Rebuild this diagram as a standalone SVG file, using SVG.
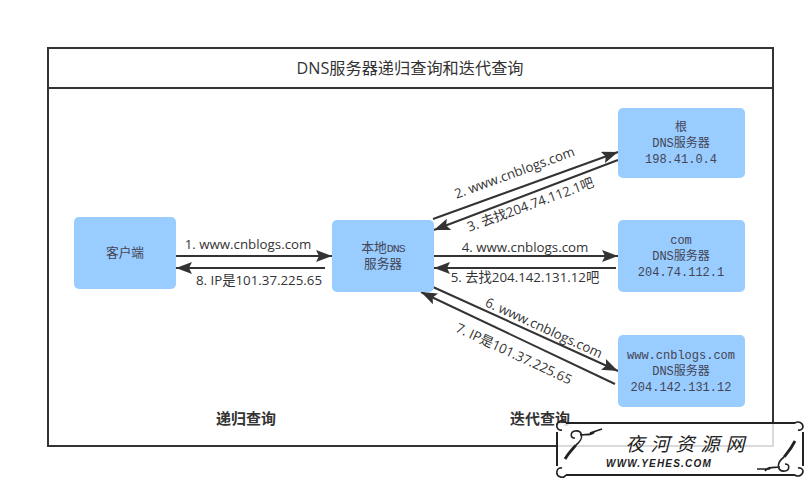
<svg xmlns="http://www.w3.org/2000/svg" width="805" height="478" viewBox="0 0 805 478">
<style>
text{font-family:"Liberation Sans","Noto Sans CJK SC",sans-serif;fill:#333;text-anchor:middle}
.lbl{font-family:"Open Sans","Noto Sans CJK SC",sans-serif;font-size:13.3px}
.n{font-family:"Liberation Mono","Noto Sans CJK SC",monospace;font-size:12.7px;fill:#445}
.n tspan{font-size:11.5px;letter-spacing:-.9px}
.m{font-family:"Liberation Mono","DejaVu Sans Mono","Noto Sans CJK SC",monospace;font-size:12px;fill:#445}
.h{font-family:"Open Sans","Noto Sans CJK SC",sans-serif;font-size:15px;font-weight:700}
.node{fill:#99ccff}
.c{stroke:#333;stroke-width:2;fill:none;marker-end:url(#a)}
.fl{fill:none;stroke:#222;stroke-width:1.6}
.fb{fill:none;stroke:#222;stroke-width:2.8}
</style>
<defs><marker id="a" markerUnits="userSpaceOnUse" markerWidth="16" markerHeight="12" refX="16" refY="6" orient="auto"><path d="M0 0L16 6L0 12L3 6Z" fill="#333"/></marker></defs>
<rect width="805" height="478" fill="#fff"/>
<g id="frame"><rect x="48" y="48" width="725" height="398" fill="#fff" stroke="#333" stroke-width="2"/><path d="M48 88H773" stroke="#333" stroke-width="2"/><text x="410" y="74" style="font-family:'Open Sans','Noto Sans CJK SC',sans-serif;font-size:16.2px">DNS服务器递归查询和迭代查询</text></g>
<g id="connectors">
<path class="c" d="M176 256H332"/><path class="c" d="M325 268H176"/>
<path class="c" d="M433 219L618 152"/><path class="c" d="M618 160L434 230"/>
<path class="c" d="M434 256H618"/><path class="c" d="M616 268H434"/>
<path class="c" d="M433 287L618 371"/><path class="c" d="M615 384L421 292"/>
</g>
<g id="labels">
<text class="lbl" x="248" y="249">1. www.cnblogs.com</text>
<text class="lbl" x="259" y="285">8. IP是101.37.225.65</text>
<text class="lbl" x="516" y="177" transform="rotate(-20 516 177)">2. www.cnblogs.com</text>
<text class="lbl" x="532" y="209" transform="rotate(-20 532 209)">3. 去找204.74.112.1吧</text>
<text class="lbl" x="525" y="252">4. www.cnblogs.com</text>
<text class="lbl" x="525" y="282">5. 去找204.142.131.12吧</text>
<text class="lbl" x="542" y="332" transform="rotate(24.5 542 332)">6. www.cnblogs.com</text>
<text class="lbl" x="512" y="358" transform="rotate(25 512 358)">7. IP是101.37.225.65</text>
</g>
<g id="client"><rect class="node" x="74" y="217" width="102" height="72" rx="5"/><text class="n" x="125" y="257">客户端</text></g>
<g id="local"><rect class="node" x="332" y="220" width="102" height="72" rx="5"/><text class="n" x="383" y="252">本地<tspan>DNS</tspan></text><text class="n" x="383" y="268">服务器</text></g>
<g id="root"><rect class="node" x="618" y="108" width="127" height="70" rx="5"/><text class="m" x="681" y="131">根</text><text class="m" x="681" y="147">DNS服务器</text><text class="m" x="681" y="163">198.41.0.4</text></g>
<g id="com"><rect class="node" x="618" y="220" width="127" height="72" rx="5"/><text class="m" x="681" y="244">com</text><text class="m" x="681" y="260">DNS服务器</text><text class="m" x="681" y="276">204.74.112.1</text></g>
<g id="www"><rect class="node" x="618" y="335" width="127" height="72" rx="5"/><text class="m" x="681" y="359">www.cnblogs.com</text><text class="m" x="681" y="375">DNS服务器</text><text class="m" x="681" y="391">204.142.131.12</text></g>
<text class="h" x="246" y="424">递归查询</text>
<text class="h" x="540" y="424">迭代查询</text>
<g id="watermark">
<rect x="557" y="423" width="246" height="52" fill="#fff" fill-opacity=".82"/>
<path d="M566 423H795M566 475H795M557 432V466M803 432V466" stroke="#222" stroke-width="2" fill="none"/>
<path class="fl" d="M566 423a5 5 0 0 0-9 4a4 4 0 0 0 5 3M795 423a5 5 0 0 1 8 4a4 4 0 0 1-5 3M566 475a5 5 0 0 1-9-4a4 4 0 0 1 5-3M795 475a5 5 0 0 0 8-4a4 4 0 0 0-5-3"/>
<path class="fb" d="M565 459C569 452 572 450 576 445"/>
<path class="fl" d="M576 445C585 438 582 430 575 431C570 432 570 438 575 438M580 435C586 434 592 436 595 431M590 433L602 429"/>
<path class="fb" d="M795 441C791 449 788 452 784 457"/>
<path class="fl" d="M784 457C775 464 778 472 785 471C790 470 790 464 785 464M780 467C774 468 768 466 765 471M770 469L757 469"/>
<text x="688" y="451" style="font-family:'Noto Sans CJK SC',sans-serif;font-size:19px;font-style:italic;letter-spacing:6px;fill:#222">夜河资源网</text>
<text x="659" y="467" style="font-family:'Liberation Sans',sans-serif;font-size:10px;font-weight:700;font-style:italic;letter-spacing:1.2px;fill:#222">WWW.YEHES.COM</text>
</g>
</svg>
